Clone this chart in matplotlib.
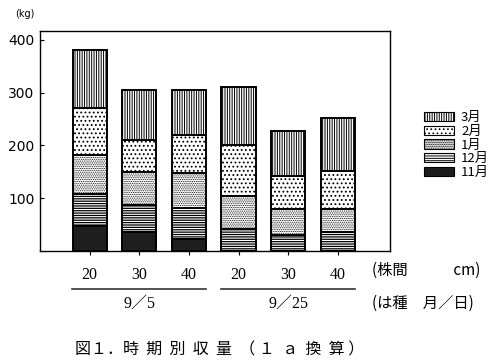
import matplotlib.pyplot as plt
from matplotlib.lines import Line2D
from matplotlib.patches import Patch

plt.rcParams['font.family'] = ['Noto Sans CJK JP', 'DejaVu Sans']

# spacing (cm) and sowing date groups
spacing = ['20', '30', '40', '20', '30', '40']
groups = ['9／5', '9／25']
months = ['11月', '12月', '1月', '2月', '3月']

# yield by harvest month (kg / a)
nov = [47, 36, 23, 0, 0, 0]
dec = [61, 51, 58, 42, 30, 36]
jan = [74, 63, 67, 61, 50, 44]
feb = [89, 60, 72, 98, 61, 72]
mar = [109, 94, 85, 109, 87, 100]

series = [nov, dec, jan, feb, mar]
styles = [
    dict(color='#1e1e1e', hatch=None, hlw=0.9),
    dict(color='white', hatch='-------', hlw=0.9),
    dict(color='white', hatch='.........', hlw=0.5),
    dict(color='white', hatch='....', hlw=0.8),
    dict(color='white', hatch='|||||||', hlw=0.7),
]

fig = plt.figure(figsize=(5.0, 3.63), dpi=100)
ax = fig.add_axes([0.08, 0.309, 0.70, 0.606])

x = list(range(len(spacing)))
bottom = [0] * len(x)
for vals, st in zip(series, styles):
    plt.rcParams['hatch.linewidth'] = st['hlw']
    ax.bar(x, vals, 0.69, bottom=bottom, facecolor=st['color'],
           edgecolor='black', linewidth=1.4, hatch=st['hatch'])
    bottom = [b + v for b, v in zip(bottom, vals)]

ax.set_xlim(-1.0, 6.05)
ax.set_ylim(0, 417)
ax.set_yticks([100, 200, 300, 400])
ax.set_yticklabels(['100', '200', '300', '400'], fontsize=10, family=['DejaVu Sans'])
ax.tick_params(axis='y', direction='in', length=3, pad=4)
ax.set_xticks(x)
ax.set_xticklabels(spacing, fontsize=11.5, family=['Liberation Serif'])
ax.tick_params(axis='x', direction='out', length=3, pad=9)
for sp in ax.spines.values():
    sp.set_linewidth(1.0)

ax.text(-0.072, 1.075, '(kg)', transform=ax.transAxes, fontsize=7,
        family=['DejaVu Sans'], va='center')

# group underlines and labels
tr = ax.get_xaxis_transform()
for i, g in enumerate(groups):
    a, b = i * 3 - 0.35, i * 3 + 2 + 0.35
    ax.add_line(Line2D([a, b], [-0.173, -0.173], transform=tr, color='#333333',
                       linewidth=1.2, clip_on=False))
    ax.text(i * 3 + 1, -0.24, g, transform=tr, ha='center', va='center',
            fontsize=11.5, family=['Liberation Serif', 'Noto Sans CJK JP'])

ax.text(0.95, -0.09, '(株間　　　cm)', transform=ax.transAxes, fontsize=11,
        ha='left', va='center')
ax.text(0.95, -0.24, '(は種　月／日)', transform=ax.transAxes, fontsize=11,
        ha='left', va='center')

fig.text(0.15, 0.035, '図１．時  期  別  収  量  （ １  ａ  換  算 ）', fontsize=11.5,
         ha='left', va='center')

handles = []
for st in styles:
    plt.rcParams['hatch.linewidth'] = st['hlw']
    handles.append(Patch(facecolor=st['color'], edgecolor='black',
                         hatch=st['hatch'], linewidth=0.8))
leg = fig.legend(handles[::-1], months[::-1], loc='center left',
                 bbox_to_anchor=(0.835, 0.60), frameon=False, fontsize=9.5,
                 handlelength=2.3, handleheight=0.7, labelspacing=0.05,
                 handletextpad=0.5, borderpad=0)

fig.savefig('out.png', dpi=100)
